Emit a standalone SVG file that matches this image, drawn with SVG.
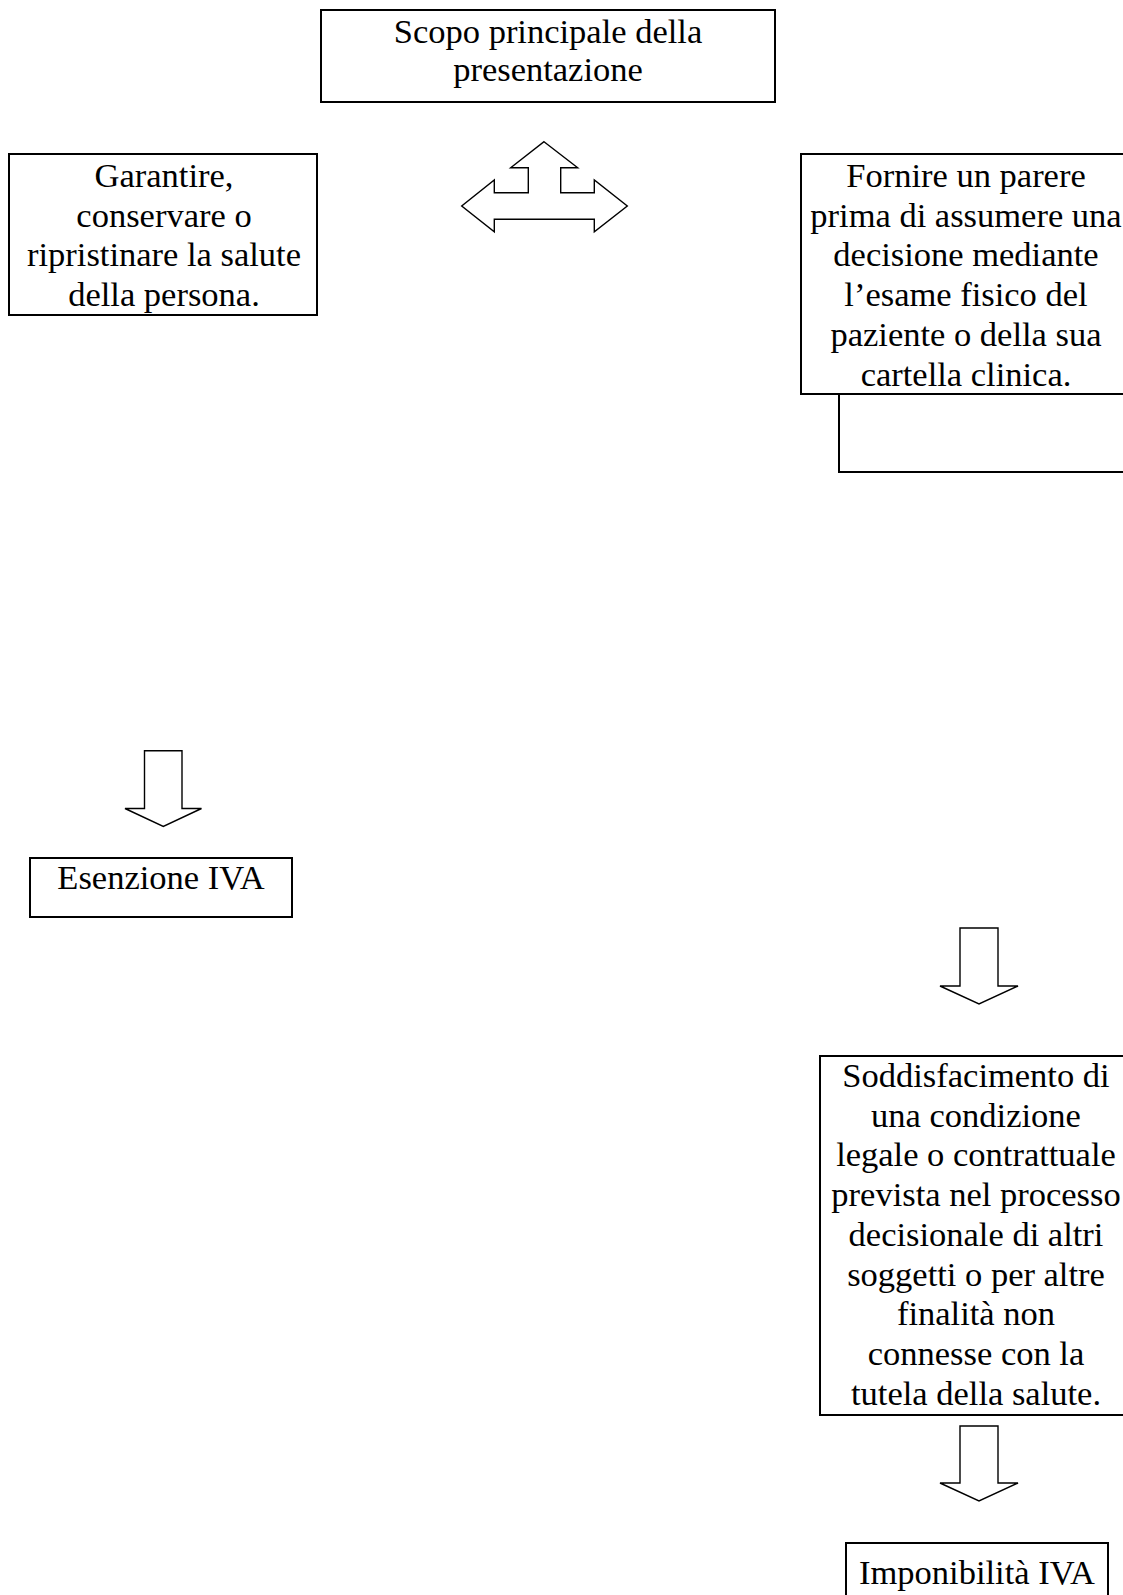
<svg xmlns="http://www.w3.org/2000/svg" width="1123" height="1595" viewBox="0 0 1123 1595">
<style>
.box{fill:#fff;stroke:#000;stroke-width:2}
.arr{fill:#fff;stroke:#000;stroke-width:1.4;stroke-linejoin:miter}
text{font-family:"Liberation Serif","Times New Roman",serif;font-size:34.5px;fill:#000;text-anchor:middle}
</style>
<rect width="1123" height="1595" fill="#fff"/>
<g id="connectors">
<path class="arr" d="M544,141.7 L577.7,167.7 L560.7,167.7 L560.7,192.7 L594.3,192.7 L594.3,180 L627.3,206 L594.3,231.7 L594.3,219.3 L494.3,219.3 L494.3,231.7 L461.7,206 L494.3,180 L494.3,192.7 L528.3,192.7 L528.3,167.7 L510.7,167.7 Z"/>
<path class="arr" d="M144.5,750.7 L182,750.7 L182,808.5 L201.5,808.5 L163.3,826.5 L125,808.5 L144.5,808.5 Z"/>
<path class="arr" d="M960,928 L998,928 L998,986 L1018,986 L979,1004 L940,986 L960,986 Z"/>
<path class="arr" d="M960,1426 L998,1426 L998,1483 L1018,1483 L979,1501 L940,1483 L960,1483 Z"/>
</g>
<g id="node-scopo">
<rect class="box" x="321" y="10" width="454" height="92"/>
<text x="548" y="42.5">Scopo principale della</text>
<text x="548" y="80.5">presentazione</text>
</g>
<g id="node-garantire">
<rect class="box" x="9" y="154" width="308" height="161"/>
<text x="164" y="187">Garantire,</text>
<text x="164" y="226.7">conservare o</text>
<text x="164" y="266.4">ripristinare la salute</text>
<text x="164" y="306.1">della persona.</text>
</g>
<g id="node-fornire">
<rect class="box" x="839" y="394" width="300" height="78"/>
<rect class="box" x="801" y="154" width="335" height="240"/>
<text x="966" y="187">Fornire un parere</text>
<text x="966" y="226.7">prima di assumere una</text>
<text x="966" y="266.4">decisione mediante</text>
<text x="966" y="306.1">l’esame fisico del</text>
<text x="966" y="345.8">paziente o della sua</text>
<text x="966" y="385.5">cartella clinica.</text>
</g>
<g id="node-esenzione">
<rect class="box" x="30" y="858" width="262" height="59"/>
<text x="161" y="889">Esenzione IVA</text>
</g>
<g id="node-soddisfacimento">
<rect class="box" x="820" y="1056" width="315" height="359"/>
<text x="976" y="1087">Soddisfacimento di</text>
<text x="976" y="1126.7">una condizione</text>
<text x="976" y="1166.4">legale o contrattuale</text>
<text x="976" y="1206.1">prevista nel processo</text>
<text x="976" y="1245.8">decisionale di altri</text>
<text x="976" y="1285.5">soggetti o per altre</text>
<text x="976" y="1325.2">finalità non</text>
<text x="976" y="1364.9">connesse con la</text>
<text x="976" y="1404.6">tutela della salute.</text>
</g>
<g id="node-imponibilita">
<rect class="box" x="846" y="1543" width="262" height="70"/>
<text x="977" y="1583.5">Imponibilità IVA</text>
</g>
</svg>
